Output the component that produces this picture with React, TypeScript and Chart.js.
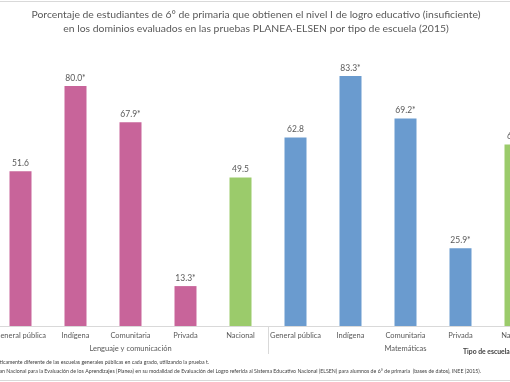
import React, { useEffect, useRef } from "react";
import { Chart, registerables } from "chart.js";

Chart.register(...registerables);

const categories = [
  "General pública", "Indígena", "Comunitaria", "Privada", "Nacional",
  "General pública", "Indígena", "Comunitaria", "Privada", "Nacional",
];
const groups = ["Lenguaje y comunicación", "Matemáticas"];
const values = [51.6, 80.0, 67.9, 13.3, 49.5, 62.8, 83.3, 69.2, 25.9, 60.5];
const significant = [false, true, true, true, false, false, true, true, true, false];
const titleLines = [
  "Porcentaje de estudiantes de 6° de primaria que obtienen el nivel I de logro educativo (insuficiente)",
  "en los dominios evaluados en las pruebas PLANEA-ELSEN por tipo de escuela (2015)",
];
const axisTitle = "Tipo de escuela";
const footnotes = [
  "* Estadísticamente diferente de las escuelas generales públicas en cada grado, utilizando la prueba t.",
  "Fuente: INEE, cálculos con base en el Plan Nacional para la Evaluación de los Aprendizajes (Planea) en su modalidad de Evaluación del Logro referida al Sistema Educativo Nacional (ELSEN) para alumnos de 6° de primaria  (bases de datos), INEE (2015).",
];

const PINK = "#C8649A";
const BLUE = "#6A9BCF";
const GREEN = "#9BCB6B";
const barColors = [PINK, PINK, PINK, PINK, GREEN, BLUE, BLUE, BLUE, BLUE, GREEN];

const FONT = "Lato, 'Liberation Sans', sans-serif";
const OFFSET = 40; // canvas starts this far left of the page edge
const W = 590;
const H = 382;

const decorPlugin = {
  id: "decor",
  afterDraw(chart: any) {
    const ctx = chart.ctx as CanvasRenderingContext2D;
    const area = chart.chartArea;
    const xs = chart.scales.x;
    const meta = chart.getDatasetMeta(0);
    ctx.save();

    // page frame lines
    ctx.strokeStyle = "#D9D9D9";
    ctx.lineWidth = 1;
    ctx.beginPath();
    ctx.moveTo(0, 1.5);
    ctx.lineTo(W, 1.5);
    ctx.moveTo(0, 380.5);
    ctx.lineTo(W, 380.5);
    ctx.stroke();

    // title
    ctx.fillStyle = "#595959";
    ctx.font = `10.4px ${FONT}`;
    ctx.textAlign = "center";
    ctx.textBaseline = "middle";
    const cx = OFFSET + 256;
    ctx.fillText(titleLines[0], cx, 15);
    ctx.fillText(titleLines[1], cx, 29);

    // value labels
    ctx.font = `8.5px ${FONT}`;
    ctx.fillStyle = "#595959";
    ctx.textBaseline = "middle";
    meta.data.forEach((bar: any, i: number) => {
      const txt = values[i].toFixed(1) + (significant[i] ? "*" : "");
      ctx.fillText(txt, bar.x, bar.y - 8);
    });

    // group separators
    const n = categories.length / groups.length;
    const step = xs.getPixelForValue(1) - xs.getPixelForValue(0);
    ctx.strokeStyle = "#D9D9D9";
    ctx.beginPath();
    for (let g = 0; g <= groups.length; g++) {
      const x = Math.round(xs.getPixelForValue(g * n) - step / 2) + 0.5;
      ctx.moveTo(x, area.bottom);
      ctx.lineTo(x, area.bottom + 28);
    }
    ctx.stroke();

    // group labels
    ctx.font = `7.5px ${FONT}`;
    ctx.fillStyle = "#595959";
    groups.forEach((gname, g) => {
      const x0 = xs.getPixelForValue(g * n);
      const x1 = xs.getPixelForValue(g * n + n - 1);
      ctx.fillText(gname, (x0 + x1) / 2, area.bottom + 23);
    });

    // axis title
    ctx.font = `bold 6.8px ${FONT}`;
    ctx.fillStyle = "#404040";
    ctx.textAlign = "left";
    ctx.fillText(axisTitle, OFFSET + 463, 352);

    // footnotes
    ctx.font = `5.25px ${FONT}`;
    ctx.fillStyle = "#404040";
    ctx.textAlign = "right";
    ctx.fillText(footnotes[0], OFFSET + 209, 362);
    ctx.fillText(footnotes[1], OFFSET + 481, 371);

    ctx.restore();
  },
};

export default function App() {
  const ref = useRef<HTMLCanvasElement | null>(null);
  useEffect(() => {
    if (!ref.current) return;
    const chart = new Chart(ref.current, {
      type: "bar",
      data: {
        labels: categories,
        datasets: [
          {
            data: values,
            backgroundColor: barColors,
            borderWidth: 0,
            barPercentage: 0.4,
            categoryPercentage: 1,
          },
        ],
      },
      options: {
        responsive: false,
        animation: false,
        layout: { padding: { top: 26, left: 33, right: 7, bottom: 0 } },
        plugins: {
          legend: { display: false },
          tooltip: { enabled: false },
          title: { display: false },
        },
        scales: {
          x: {
            grid: { display: false, drawTicks: false },
            border: { display: true, color: "#D9D9D9" },
            ticks: {
              font: { family: FONT, size: 7.5 },
              color: "#595959",
              padding: 5,
              maxRotation: 0,
              autoSkip: false,
            },
            afterFit: (s: any) => {
              s.height = 56;
            },
          },
          y: { display: false, min: 0, max: 100 },
        },
      },
      plugins: [decorPlugin],
    });
    return () => chart.destroy();
  }, []);
  return (
    <div
      style={{
        position: "fixed",
        left: 0,
        top: 0,
        width: 510,
        height: 382,
        overflow: "hidden",
        background: "#fff",
      }}
    >
      <canvas
        ref={ref}
        width={W}
        height={H}
        style={{ position: "absolute", left: -OFFSET, top: 0, width: W, height: H }}
      />
    </div>
  );
}
